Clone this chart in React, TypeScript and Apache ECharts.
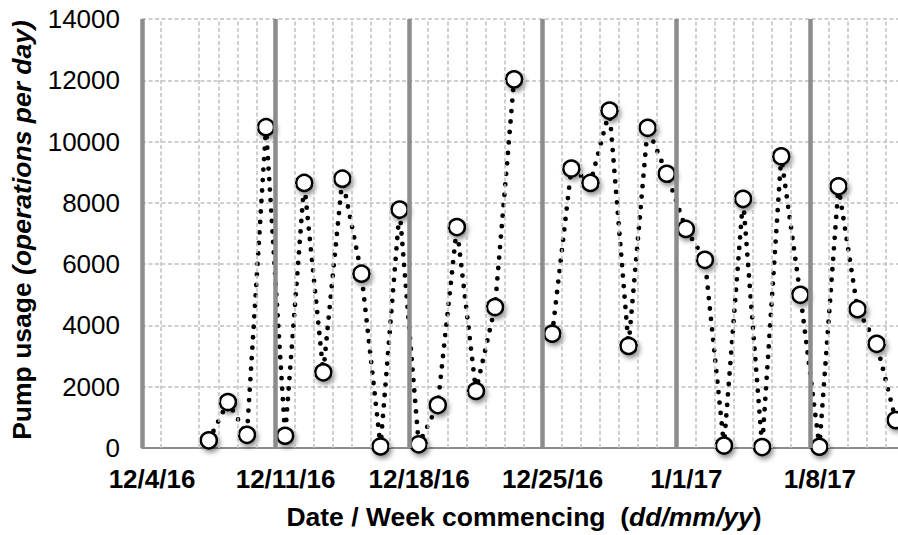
import React, { useEffect, useRef } from "react";
import * as echarts from "echarts";

// Week-commencing tick labels (one every 7 days from 12/4/16)
const weekLabels = ["12/4/16", "12/11/16", "12/18/16", "12/25/16", "1/1/17", "1/8/17"];

// Daily observation dates
const dates = [
  "2016-12-07", "2016-12-08", "2016-12-09", "2016-12-10", "2016-12-11", "2016-12-12",
  "2016-12-13", "2016-12-14", "2016-12-15", "2016-12-16", "2016-12-17", "2016-12-18",
  "2016-12-19", "2016-12-20", "2016-12-21", "2016-12-22", "2016-12-23", "2016-12-24",
  "2016-12-25", "2016-12-26", "2016-12-27", "2016-12-28", "2016-12-29", "2016-12-30",
  "2016-12-31", "2017-01-01", "2017-01-02", "2017-01-03", "2017-01-04", "2017-01-05",
  "2017-01-06", "2017-01-07", "2017-01-08", "2017-01-09", "2017-01-10", "2017-01-11",
  "2017-01-12",
];

// Pump usage (operations per day); null = no reading
const usage = [
  250, 1500, 430, 10470, 400, 8650,
  2470, 8790, 5690, 50, 7780, 120,
  1400, 7210, 1860, 4600, 12030, null,
  3730, 9120, 8650, 11010, 3330, 10450,
  8950, 7150, 6140, 80, 8130, 30,
  9520, 5000, 40, 8540, 4530, 3400,
  910,
];

const axisStart = "2016-12-04";
const axisEndDays = 39.62;
const missingGridDays = [2];

const DAY = 86400000;
const toUTC = (s: string) => {
  const [y, m, d] = s.split("-").map(Number);
  return Date.UTC(y, m - 1, d);
};

export default function App() {
  const ref = useRef<HTMLDivElement>(null);

  useEffect(() => {
    if (!ref.current) return;
    const chart = echarts.init(ref.current, null, { renderer: "svg" });
    const start = toUTC(axisStart);
    const seriesData = dates.map((d, i) => [
      (toUTC(d) - start) / DAY + 0.5,
      usage[i] === null ? "-" : usage[i],
    ]);

    const weekDays = weekLabels.map((_, i) => i * 7);
    const dayLines: number[] = [];
    for (let d = 1; d < axisEndDays; d++) {
      if (d % 7 !== 0 && missingGridDays.indexOf(d) < 0) dayLines.push(d);
    }

    const font = "'Liberation Sans', Arial, sans-serif";
    const titleSize = 26.5;

    chart.setOption({
      animation: false,
      grid: { left: 142, right: 0, top: 19, bottom: 87, containLabel: false },
      xAxis: {
        type: "value",
        min: 0,
        max: axisEndDays,
        interval: 7,
        splitLine: { show: false },
        axisTick: { show: false },
        axisLine: { show: true, lineStyle: { color: "#8c8c8c", width: 2 } },
        axisLabel: {
          showMaxLabel: false,
          margin: 18,
          color: "#000",
          fontFamily: font,
          fontWeight: "bold",
          fontSize: 26,
          padding: [0, 0, 0, 20],
          formatter: (v: number) => {
            const idx = Math.round(v / 7);
            return Math.abs(v - idx * 7) < 1e-6 && weekLabels[idx] ? weekLabels[idx] : "";
          },
        },
      },
      yAxis: {
        type: "value",
        min: 0,
        max: 14000,
        interval: 2000,
        axisLine: { show: false },
        axisTick: { show: false },
        axisLabel: {
          margin: 22,
          color: "#000",
          fontFamily: font,
          fontSize: 26,
          formatter: (v: number) => String(v),
        },
        splitLine: { show: true, lineStyle: { color: "#c0c0c0", width: 1.5, type: [4, 2.5] } },
      },
      graphic: [
        {
          type: "text",
          x: 22,
          y: 230,
          rotation: Math.PI / 2,
          style: {
            text: "{b|Pump usage }{i|(operations per day)}",
            align: "center",
            verticalAlign: "middle",
            rich: {
              b: { fontFamily: font, fontWeight: "bold", fontSize: titleSize, fill: "#000" },
              i: { fontFamily: font, fontWeight: "bold", fontStyle: "italic", fontSize: titleSize, fill: "#000" },
            },
          },
        },
        {
          type: "text",
          x: 524,
          y: 517,
          style: {
            text: "{b|Date / Week commencing  (}{i|dd/mm/yy}{b|)}",
            align: "center",
            verticalAlign: "middle",
            rich: {
              b: { fontFamily: font, fontWeight: "bold", fontSize: titleSize, fill: "#000" },
              i: { fontFamily: font, fontWeight: "bold", fontStyle: "italic", fontSize: titleSize, fill: "#000" },
            },
          },
        },
      ],
      series: [
        {
          type: "line",
          data: [],
          z: 1,
          silent: true,
          markLine: {
            silent: true,
            symbol: ["none", "none"],
            label: { show: false },
            emphasis: { disabled: true },
            data: [
              ...dayLines.map((d) => ({
                xAxis: d,
                lineStyle: { color: "#c0c0c0", width: 1.5, type: [4, 2.5] },
              })),
              ...weekDays.map((d) => ({
                xAxis: d,
                lineStyle: { color: "#8c8c8c", width: 4.5, type: "solid" },
              })),
            ],
          },
        },
        {
          type: "line",
          data: seriesData,
          z: 3,
          connectNulls: false,
          symbol: "circle",
          symbolSize: 16,
          lineStyle: { color: "#000", width: 4.8, type: [0, 10.5], cap: "round" },
          itemStyle: {
            color: "#fff",
            borderColor: "#000",
            borderWidth: 2.5,
            shadowBlur: 5,
            shadowColor: "rgba(0,0,0,0.45)",
            shadowOffsetX: 2,
            shadowOffsetY: 3,
          },
        },
      ],
    });
    return () => chart.dispose();
  }, []);

  return (
    <div
      ref={ref}
      style={{ position: "fixed", left: 0, top: 0, width: 898, height: 535, background: "#fff" }}
    />
  );
}
